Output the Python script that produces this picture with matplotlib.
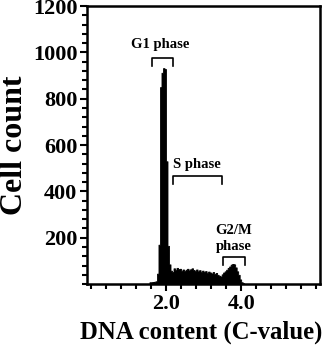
import numpy as np
import matplotlib
matplotlib.use("Agg")
import matplotlib.pyplot as plt
from matplotlib.ticker import MultipleLocator, FixedLocator

# histogram channels (C-value), bin width 0.04
bin_start = 1.56
bin_width = 0.04
counts = [8, 8, 9, 10, 12, 45, 170, 850, 912, 932, 928, 530, 165, 85,
          58, 52, 68, 62, 70, 64, 66, 58, 63, 57, 62, 66, 59, 64, 68, 61,
          57, 63, 55, 60, 53, 58, 52, 56, 49, 54, 50, 46, 52, 44, 48, 40,
          36, 33, 42, 50, 55, 62, 70, 76, 84, 87, 85, 72, 55, 40, 20, 8, 4]

phases = ["G1 phase", "S phase", "G2/M\nphase"]
bracket_x = [(1.63, 2.19), (2.19, 3.49), (3.52, 4.10)]
bracket_y = [976, 466, 117]
label_xy = [(1.84, 1036), (2.83, 518), (3.80, 198)]

plt.rcParams["font.family"] = ["Liberation Serif", "DejaVu Serif"]
plt.rcParams["font.weight"] = "bold"

fig = plt.figure(figsize=(3.26, 3.56), dpi=100)
ax = fig.add_axes([0.267, 0.202, 0.715, 0.781])

edges = bin_start + bin_width * np.arange(len(counts) + 1)
heights = np.append(counts, counts[-1])
ax.fill_between(edges, 0, heights, step="post", facecolor="black",
                edgecolor="black", linewidth=0.6, snap=False)

for (x0, x1), yb, (tx, ty), txt in zip(bracket_x, bracket_y, label_xy, phases):
    leg = 35
    ax.plot([x0, x0, x1, x1], [yb - leg, yb, yb, yb - leg], color="black", lw=1.2)
    ax.text(tx, ty, txt, ha="center", va="center", fontsize=10.5,
            fontweight="bold", linespacing=1.3)

ax.set_xlim(-0.1, 6.1)
ax.set_ylim(0, 1200)

ax.xaxis.set_major_locator(FixedLocator([2.0, 4.0]))
ax.xaxis.set_minor_locator(MultipleLocator(0.4))
ax.set_xticklabels(["2.0", "4.0"])
ax.yaxis.set_major_locator(FixedLocator([200, 400, 600, 800, 1000, 1200]))
ax.yaxis.set_minor_locator(MultipleLocator(40))

ax.tick_params(which="major", direction="out", length=5, width=1.5,
               labelsize=16, pad=2)
ax.tick_params(which="minor", direction="out", length=3.5, width=1.5)
for lbl in ax.get_xticklabels() + ax.get_yticklabels():
    lbl.set_fontweight("bold")

for s in ax.spines.values():
    s.set_linewidth(1.8)

ax.set_xlabel("DNA content (C-value)", fontsize=17.8, fontweight="bold",
              labelpad=5, x=0.49)
ax.set_ylabel("Cell count", fontsize=23, fontweight="bold", labelpad=3)

fig.savefig("out.png", dpi=100)
